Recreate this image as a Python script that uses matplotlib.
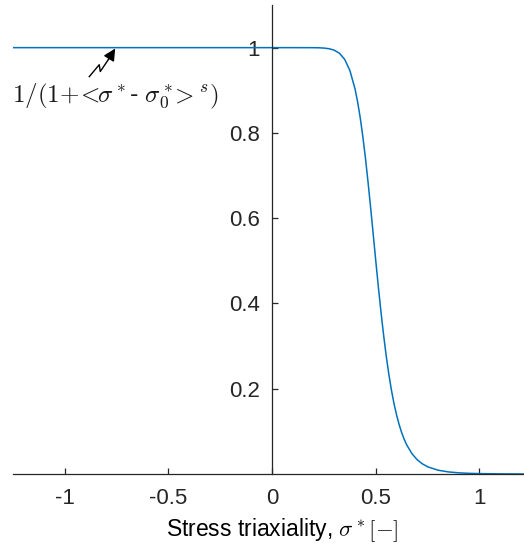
import numpy as np
import matplotlib.pyplot as plt

plt.rcParams['font.family'] = ['Liberation Sans', 'DejaVu Sans']
plt.rcParams['mathtext.fontset'] = 'cm'

# stress triaxiality and the weighting 1/(1+<s*-s0*>^s)
sigma = [-1.25, -1.0, -0.5, 0.0, 0.1, 0.2, 0.225, 0.25, 0.275, 0.3, 0.325,
         0.35, 0.375, 0.4, 0.4125, 0.425, 0.4375, 0.45, 0.4625, 0.475,
         0.4875, 0.5, 0.5125, 0.525, 0.5375, 0.55, 0.5625, 0.575, 0.5875,
         0.6, 0.6125, 0.625, 0.6375, 0.65, 0.675, 0.7, 0.725, 0.75, 0.8,
         0.85, 0.9, 0.95, 1.0, 1.1, 1.22]
weight = [1.0, 1.0, 1.0, 1.0, 1.0, 0.9999, 0.99966, 0.99902, 0.9975, 0.99399,
          0.98672, 0.97253, 0.94669, 0.90304, 0.87255, 0.83551, 0.79172,
          0.74147, 0.68560, 0.62549, 0.56297, 0.5, 0.43858, 0.38039, 0.32669,
          0.27826, 0.23544, 0.19819, 0.16622, 0.13905, 0.11615, 0.09696,
          0.08096, 0.06765, 0.04738, 0.03339, 0.02376, 0.01705, 0.00901,
          0.00494, 0.0028, 0.00163, 0.00098, 0.00038, 0.0001]

xticks = [-1, -0.5, 0, 0.5, 1]
yticks = [0.2, 0.4, 0.6, 0.8, 1]

fig = plt.figure(figsize=(5.24, 5.51), dpi=100)
ax = fig.add_axes([0.0248, 0.1397, 0.9752, 0.8512])

ax.plot(sigma, weight, color='#0072BD', lw=1.1)

ax.set_xlim(-1.25, 1.215)
ax.set_ylim(0, 1.1)

axcol = '#262626'
ax.spines['left'].set_position(('data', 0))
ax.spines['bottom'].set_position(('data', 0))
ax.spines['top'].set_visible(False)
ax.spines['right'].set_visible(False)
for s in ('left', 'bottom'):
    ax.spines[s].set_color(axcol)
    ax.spines[s].set_linewidth(0.9)

ax.set_xticks(xticks)
ax.set_xticklabels(['-1', '-0.5', '0', '0.5', '1'])
ax.set_yticks(yticks)
ax.set_yticklabels(['0.2', '0.4', '0.6', '0.8', '1'])
ax.tick_params(direction='in', length=4, width=0.9, color=axcol,
               labelsize=16, labelcolor=axcol)
ax.tick_params(axis='x', pad=10)
ax.tick_params(axis='y', pad=9)

ax.set_xlabel(r'Stress triaxiality, $\sigma^*[-]$', fontsize=16.5, color='black')
ax.xaxis.set_label_coords(0.526, -0.119)
ax.xaxis.label.set_verticalalignment('center')

# label with a broken leader arrow pointing at the plateau
zx = [-0.882, -0.834, -0.829, -0.790]
zy = [0.932, 0.960, 0.944, 0.972]
ax.plot(zx, zy, color='black', lw=1.0)
ax.annotate('', xy=(-0.757, 0.998), xytext=(-0.790, 0.972),
            arrowprops=dict(arrowstyle='-|>', color='black', lw=1.0,
                            mutation_scale=18, shrinkA=0, shrinkB=0))
ax.text(-1.253, 0.885,
        r'$1/(1\!+\!\!<\!\!\sigma^*$- $\sigma_0^*\!\!>^s)$',
        fontsize=18, ha='left', va='center', color='#1a1a1a')

fig.savefig('out.png', dpi=100)
